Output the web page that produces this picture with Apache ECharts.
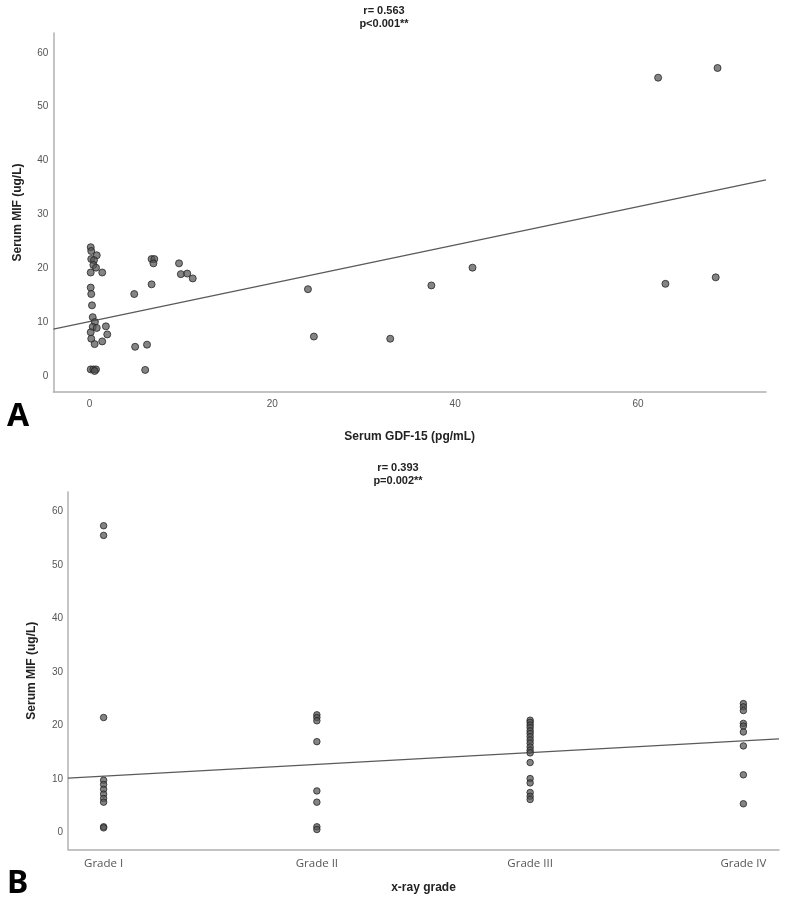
<!DOCTYPE html>
<html>
<head>
<meta charset="utf-8">
<script src="https://cdn.jsdelivr.net/npm/echarts@6/dist/echarts.min.js"></script>
<style>
html,body{margin:0;padding:0;background:#fff;}
#chart{width:788px;height:903px;}
</style>
</head>
<body>
<div id="chart"></div>
<script>
// ---- Panel A data: Serum GDF-15 (x) vs Serum MIF (y)
var gdf15 = [0.14,0.2,0.8,0.2,0.5,0.43,0.72,0.14,1.4,0.14,0.2,0.28,0.36,0.6,0.36,0.8,1.8,0.14,1.95,0.2,1.4,0.57,0.14,0.43,0.72,0.57,
             6.8,7.1,7.0,9.8,10.0,10.7,11.3,6.8,4.9,5.0,6.3,6.1,
             23.9,24.55,32.9,37.4,41.9,63.0,68.5,62.2,68.7];
var mifA  = [23.9,23.2,22.4,21.7,21.5,20.6,20.1,19.2,19.2,16.4,15.2,13.1,10.9,10.0,9.1,8.9,9.2,8.1,7.7,6.9,6.4,5.9,1.2,1.2,1.2,0.9,
             21.7,21.7,20.9,20.9,18.9,19.0,18.1,17.0,15.2,5.4,5.8,1.1,
             16.1,7.3,6.9,16.8,20.1,17.1,18.3,55.4,57.2];
var fitA = {intercept: 10.07, slope: 0.3562};
var ticksAx = [0,20,40,60];
var ticksY = [0,10,20,30,40,50,60];

// ---- Panel B data: x-ray grade vs Serum MIF
var grades = ['Grade I','Grade II','Grade III','Grade IV'];
var mifGrade1 = [57.3,55.5,21.5,9.8,9.0,8.1,7.2,6.4,5.7,1.1,0.9];
var mifGrade2 = [22.0,21.5,20.9,17.0,7.8,5.7,1.1,0.6];
var mifGrade3 = [21.0,20.6,20.1,19.6,19.0,18.5,17.9,17.3,16.7,16.0,15.4,14.9,13.1,10.1,9.3,7.5,6.8,6.2];
var mifGrade4 = [24.1,23.5,22.8,20.4,19.9,18.8,16.2,10.8,5.4];
var fitB = {intercept: 8.37, slope: 2.19};

var xAmin = -3.94, xAmax = 74.0;
var xBmin = 0.833, xBmax = 4.167;

var ptsA = gdf15.map(function(x,i){return [x, mifA[i]];});
var ptsB = [];
[mifGrade1,mifGrade2,mifGrade3,mifGrade4].forEach(function(arr,g){
  arr.forEach(function(v){ptsB.push([g+1, v]);});
});
var lineA = [[xAmin, fitA.intercept + fitA.slope*xAmin],[xAmax, fitA.intercept + fitA.slope*xAmax]];
var lineB = [[xBmin, fitB.intercept + fitB.slope*xBmin],[xBmax, fitB.intercept + fitB.slope*xBmax]];

var axisLineStyle = {show:true, onZero:false, lineStyle:{color:'#b0b0b0', width:1.5}};
var tickFont = {fontFamily:'Liberation Sans', fontSize:10, color:'#555'};
var nameFont = {fontFamily:'Liberation Sans', fontSize:12, fontWeight:'bold', color:'#222'};
var markerStyle = {color:'rgba(85,85,85,0.9)', borderColor:'#262626', borderWidth:1};

var chart = echarts.init(document.getElementById('chart'), null, {renderer:'canvas'});
chart.setOption({
  animation:false,
  backgroundColor:'#fff',
  grid:[
    {left:53.4, top:33, width:712.6, height:359},
    {left:68, top:492, width:711, height:357.3}
  ],
  xAxis:[
    {gridIndex:0, type:'value', min:xAmin, max:xAmax, axisLine:axisLineStyle, axisTick:{show:false}, splitLine:{show:false},
     axisLabel:Object.assign({customValues:ticksAx, margin:7}, tickFont),
     name:'Serum GDF-15 (pg/mL)', nameLocation:'middle', nameGap:39, nameTextStyle:nameFont},
    {gridIndex:1, type:'value', min:xBmin, max:xBmax, axisLine:axisLineStyle, axisTick:{show:false}, splitLine:{show:false},
     axisLabel:{customValues:[1,2,3,4], margin:8, fontFamily:'Open Sans', fontSize:11.5, color:'#555',
       formatter:function(v){return grades[Math.round(v)-1];}},
     name:'x-ray grade', nameLocation:'middle', nameGap:32, nameTextStyle:nameFont}
  ],
  yAxis:[
    {gridIndex:0, type:'value', min:-3, max:63.7, axisLine:axisLineStyle, axisTick:{show:false}, splitLine:{show:false},
     axisLabel:Object.assign({customValues:ticksY, margin:5}, tickFont),
     name:'Serum MIF (ug/L)', nameLocation:'middle', nameGap:30, nameTextStyle:nameFont},
    {gridIndex:1, type:'value', min:-3.1, max:63.6, axisLine:axisLineStyle, axisTick:{show:false}, splitLine:{show:false},
     axisLabel:Object.assign({customValues:ticksY, margin:5}, tickFont),
     name:'Serum MIF (ug/L)', nameLocation:'middle', nameGap:30, nameTextStyle:nameFont}
  ],
  series:[
    {type:'line', xAxisIndex:0, yAxisIndex:0, data:lineA, symbol:'none', lineStyle:{color:'#5a5a5a', width:1.3}, z:1},
    {type:'scatter', xAxisIndex:0, yAxisIndex:0, data:ptsA, symbolSize:7, itemStyle:markerStyle, z:2},
    {type:'line', xAxisIndex:1, yAxisIndex:1, data:lineB, symbol:'none', lineStyle:{color:'#5a5a5a', width:1.3}, z:1},
    {type:'scatter', xAxisIndex:1, yAxisIndex:1, data:ptsB, symbolSize:6.5, itemStyle:markerStyle, z:2}
  ],
  graphic:[
    {type:'text', x:384, y:11, style:{text:'r= 0.563', font:'bold 11px "Liberation Sans"', fill:'#222', align:'center', verticalAlign:'middle'}},
    {type:'text', x:384, y:24, style:{text:'p<0.001**', font:'bold 11px "Liberation Sans"', fill:'#222', align:'center', verticalAlign:'middle'}},
    {type:'text', x:398, y:468, style:{text:'r= 0.393', font:'bold 11px "Liberation Sans"', fill:'#222', align:'center', verticalAlign:'middle'}},
    {type:'text', x:398, y:481, style:{text:'p=0.002**', font:'bold 11px "Liberation Sans"', fill:'#222', align:'center', verticalAlign:'middle'}},
    {type:'text', x:7, y:417, style:{text:'A', font:'bold 32px "Noto Sans"', fill:'#000', align:'left', verticalAlign:'middle'}},
    {type:'text', x:7, y:884, style:{text:'B', font:'bold 32px "Noto Sans"', fill:'#000', align:'left', verticalAlign:'middle'}}
  ]
});
</script>
</body>
</html>
